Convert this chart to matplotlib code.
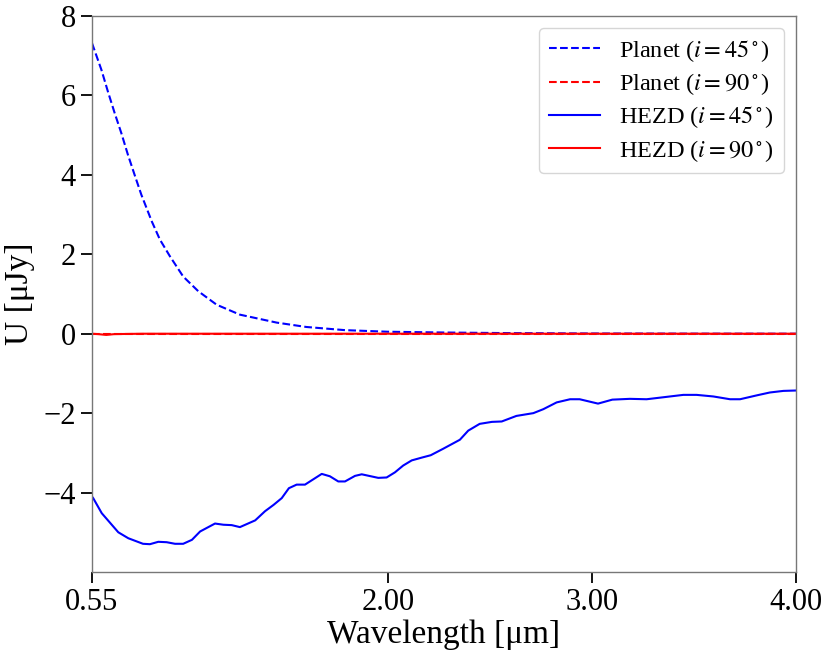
import numpy as np
import matplotlib
matplotlib.use("Agg")
import matplotlib.pyplot as plt

plt.rcParams['font.family'] = ['Liberation Serif', 'DejaVu Serif']
plt.rcParams['mathtext.fontset'] = 'stix'

# planet, i = 45 deg
wl_planet = [0.55, 0.596, 0.628, 0.661, 0.694, 0.726, 0.759, 0.792, 0.843, 0.883,
             0.932, 0.997, 1.071, 1.161, 1.275, 1.455, 1.60, 1.79,
             2.00, 2.28, 2.60, 3.00, 3.50, 4.00]
u_planet45 = [7.32, 6.65, 6.10, 5.56, 5.05, 4.51, 4.00, 3.50, 2.83, 2.37,
              1.95, 1.44, 1.07, 0.73, 0.48, 0.28, 0.17, 0.09,
              0.05, 0.03, 0.015, 0.006, 0.002, 0.0]
u_planet90 = [0.0] * len(wl_planet)

# HEZD, i = 45 deg
wl_hezd = [0.55, 0.556, 0.598, 0.679, 0.728, 0.80, 0.834, 0.875, 0.916, 0.957,
           0.997, 1.04, 1.08, 1.153, 1.194, 1.235, 1.275, 1.35, 1.398, 1.44,
           1.48, 1.515, 1.553, 1.594, 1.676, 1.716, 1.757, 1.79, 1.839, 1.872,
           1.953, 1.994, 2.035, 2.075, 2.117, 2.166, 2.21, 2.27, 2.353, 2.394,
           2.45, 2.51, 2.558, 2.63, 2.713, 2.762, 2.827, 2.893, 2.94, 3.03,
           3.10, 3.186, 3.268, 3.35, 3.448, 3.513, 3.595, 3.677, 3.726, 3.81,
           3.872, 3.938, 4.00]
u_hezd45 = [-4.10, -4.14, -4.52, -5.00, -5.15, -5.29, -5.30, -5.24, -5.25, -5.29,
            -5.29, -5.19, -4.98, -4.78, -4.81, -4.82, -4.87, -4.70, -4.47, -4.31,
            -4.14, -3.89, -3.80, -3.80, -3.53, -3.59, -3.72, -3.72, -3.58, -3.54,
            -3.63, -3.62, -3.49, -3.32, -3.19, -3.12, -3.06, -2.90, -2.67, -2.44,
            -2.27, -2.22, -2.21, -2.07, -2.00, -1.90, -1.73, -1.65, -1.65, -1.76,
            -1.66, -1.64, -1.65, -1.60, -1.54, -1.54, -1.58, -1.65, -1.65, -1.55,
            -1.48, -1.44, -1.43]

# HEZD, i = 90 deg (flat, tiny dip near the start)
wl_hezd90 = [0.55, 0.58, 0.62, 0.66, 0.80, 1.50, 2.50, 4.00]
u_hezd90 = [0.0, -0.01, -0.03, -0.01, 0.0, 0.0, 0.0, 0.0]

xticks = [0.55, 2.00, 3.00, 4.00]
yticks = [-4, -2, 0, 2, 4, 6, 8]

fig = plt.figure(figsize=(8.3, 6.54), dpi=100)
ax = fig.add_axes([0.1108, 0.1254, 0.8482, 0.8501])

ax.plot(wl_planet, u_planet45, color='blue', ls='--', lw=1.5, label=r'Planet ($i=45^\circ$)')
ax.plot(wl_planet, u_planet90, color='red', ls='--', lw=1.5, label=r'Planet ($i=90^\circ$)')
ax.plot(wl_hezd, u_hezd45, color='blue', ls='-', lw=1.5, label=r'HEZD ($i=45^\circ$)')
ax.plot(wl_hezd90, u_hezd90, color='red', ls='-', lw=1.5, label=r'HEZD ($i=90^\circ$)')

ax.set_xlim(0.55, 4.0)
ax.set_ylim(-6, 8)
ax.set_xticks(xticks)
ax.set_xticklabels(['%.2f' % t for t in xticks])
ax.set_yticks(yticks)
ax.set_yticklabels(['\u2212%d' % -t if t < 0 else '%d' % t for t in yticks])
ax.tick_params(axis='both', direction='out', length=8, width=1.3, labelsize=22,
               top=False, right=False)
for sp in ax.spines.values():
    sp.set_color('#777777')
    sp.set_linewidth(1.0)

ax.set_xlabel('Wavelength [\u03bcm]', fontsize=24, labelpad=2)
ax.set_ylabel('U [\u03bcJy]', fontsize=24, labelpad=6)

leg = ax.legend(loc='upper right', fontsize=17.5, frameon=True, handlelength=2.1,
                labelspacing=0.3, borderaxespad=0.5)
leg.get_frame().set_edgecolor('#cccccc')

fig.savefig('out.png', dpi=100)
